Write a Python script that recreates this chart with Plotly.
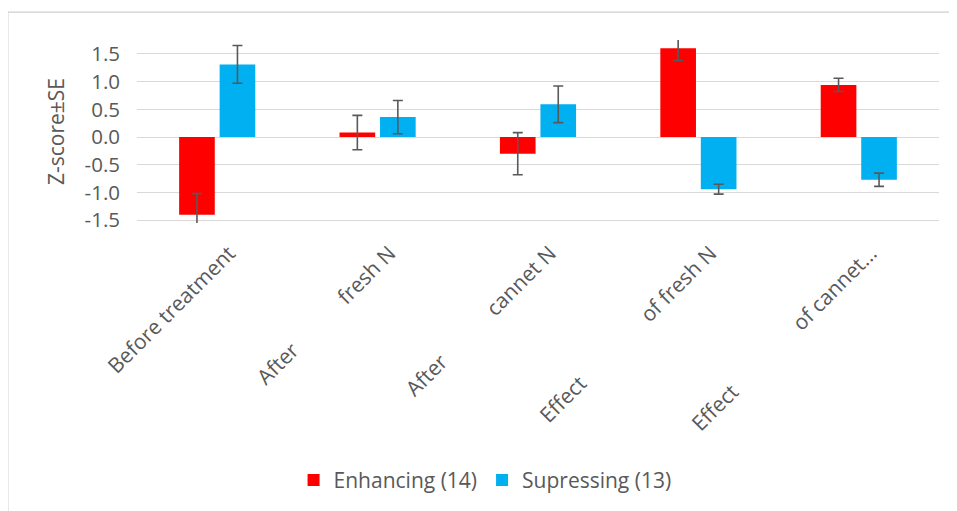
import plotly.graph_objects as go

NB = "\u00a0"
categories = ["Before treatment", "After fresh N", "After cannet N", "Effect of fresh N", "Effect of cannet N"]
tick_labels = [
    "Before treatment",
    "After" + NB * 12 + "fresh N",
    "After" + NB * 12 + "cannet N",
    "Effect" + NB * 16 + "of fresh N",
    "Effect" + NB * 16 + "of cannet...",
]
enhancing = [-1.40, 0.08, -0.30, 1.60, 0.94]
enhancing_se = [0.38, 0.31, 0.38, 0.22, 0.12]
suppressing = [1.31, 0.36, 0.59, -0.94, -0.77]
suppressing_se = [0.34, 0.30, 0.33, 0.09, 0.12]
y_ticks = [-1.5, -1.0, -0.5, 0.0, 0.5, 1.0, 1.5]

FONT = "Open Sans"
GREY = "#595959"

fig = go.Figure()
fig.add_trace(go.Bar(
    x=categories, y=enhancing, name="Enhancing (14)",
    marker=dict(color="#ff0000", line=dict(width=0)),
    error_y=dict(type="data", array=enhancing_se, visible=True,
                 color=GREY, thickness=1.6, width=5),
))
fig.add_trace(go.Bar(
    x=categories, y=suppressing, name="Supressing (13)",
    marker=dict(color="#00b0f0", line=dict(width=0)),
    error_y=dict(type="data", array=suppressing_se, visible=True,
                 color=GREY, thickness=1.6, width=5),
))

fig.update_layout(
    width=949, height=503,
    margin=dict(l=129, r=18, t=32, b=287),
    paper_bgcolor="white", plot_bgcolor="white",
    barmode="group", bargap=0.495, bargroupgap=0.12,
    font=dict(family=FONT, size=21, color=GREY),
    showlegend=True,
    legend=dict(orientation="h", x=0.434, xanchor="center", y=-1.393, yanchor="middle",
                font=dict(family=FONT, size=21, color=GREY), itemwidth=30,
                traceorder="normal"),
    shapes=[dict(type="rect", xref="paper", yref="paper",
                 x0=-0.161, x1=1.03, y0=-1.6, y1=1.152,
                 line=dict(color="#d0d0d0", width=1.2), layer="below")],
)
fig.update_xaxes(
    tickmode="array", tickvals=categories, ticktext=tick_labels,
    tickangle=-45, tickfont=dict(family=FONT, size=21, color=GREY),
    ticklabelstandoff=13, ticklabelshift=12,
    showgrid=False, showline=False, ticks="", zeroline=False,
)
fig.update_yaxes(
    range=[-1.55, 1.75], tickmode="array", tickvals=y_ticks,
    ticktext=[f"{v:.1f}" for v in y_ticks],
    showgrid=True, gridcolor="#d9d9d9", gridwidth=1.3,
    zeroline=True, zerolinecolor="#d9d9d9", zerolinewidth=1.3,
    showline=False, ticks="", ticklen=0, ticklabelstandoff=16,
    tickfont=dict(family=FONT, size=20.5, color=GREY),
    title=dict(text="Z-score±SE", font=dict(family=FONT, size=21, color=GREY), standoff=14),
)

fig.write_html("out.html")
